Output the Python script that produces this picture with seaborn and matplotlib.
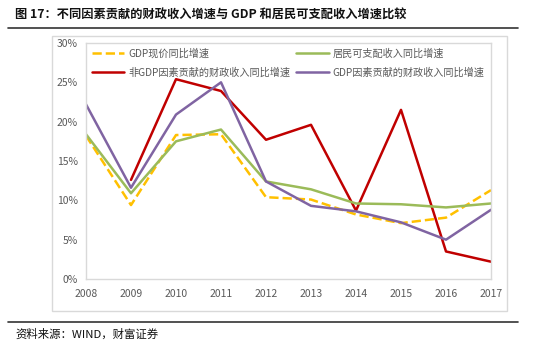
import pandas as pd
import numpy as np
import matplotlib
matplotlib.use('Agg')
import matplotlib.pyplot as plt
import seaborn as sns
from matplotlib.patches import Rectangle
from matplotlib.lines import Line2D
from matplotlib.ticker import FuncFormatter

sns.set_style('white')
plt.rcParams['font.family'] = ['Noto Sans CJK SC', 'DejaVu Sans']

years = [2008, 2009, 2010, 2011, 2012, 2013, 2014, 2015, 2016, 2017]
gdp_nominal = [18.2, 9.4, 18.3, 18.4, 10.4, 10.1, 8.2, 7.1, 7.8, 11.3]
income = [18.4, 10.9, 17.5, 19.0, 12.4, 11.4, 9.6, 9.5, 9.1, 9.6]
non_gdp_fiscal = [np.nan, 12.6, 25.4, 23.9, 17.7, 19.6, 8.7, 21.5, 3.5, 2.2]
gdp_fiscal = [22.2, 11.6, 20.9, 25.0, 12.4, 9.3, 8.6, 7.2, 5.0, 8.8]

names = ['GDP现价同比增速', '非GDP因素贡献的财政收入同比增速',
         '居民可支配收入同比增速', 'GDP因素贡献的财政收入同比增速']
series = [gdp_nominal, non_gdp_fiscal, income, gdp_fiscal]
colors = ['#FFC000', '#C00000', '#9BBB59', '#8064A2']
styles = ['--', '-', '-', '-']

fig = plt.figure(figsize=(5.5, 3.54), dpi=100)

# title and rules
fig.text(15 / 550, 1 - 15 / 354, '图 17：不同因素贡献的财政收入增速与 GDP 和居民可支配收入增速比较',
         fontsize=8.8, fontweight='bold', va='center', ha='left', color='#111111')
fig.add_artist(Line2D([8 / 550, 518 / 550], [1 - 28 / 354] * 2, color='#333333', lw=1.2))
fig.add_artist(Line2D([8 / 550, 518 / 550], [1 - 322 / 354] * 2, color='#333333', lw=1.2))
fig.text(15 / 550, 1 - 334 / 354, '资料来源：WIND，财富证券', fontsize=8.2, style='italic',
         va='center', ha='left', color='#111111')

# chart box
fig.add_artist(Rectangle((52 / 550, 1 - 311 / 354), 455 / 550, 275 / 354,
                         transform=fig.transFigure, fill=False, ec='#D9D9D9', lw=1))

ax = fig.add_axes([86 / 550, 1 - 279 / 354, 405 / 550, 236 / 354])
for name, vals, c, ls in zip(names, series, colors, styles):
    sns.lineplot(x=years, y=np.array(vals) / 100, color=c, linestyle=ls, lw=1.8,
                 label=name, ax=ax)

ax.set_xlim(2008, 2017)
ax.set_ylim(0, 0.30)
ax.set_xticks(years)
ax.set_yticks([0, 0.05, 0.10, 0.15, 0.20, 0.25, 0.30])
ax.yaxis.set_major_formatter(FuncFormatter(lambda v, p: f'{v * 100:.0f}%'))
ax.tick_params(axis='both', labelsize=7.5, labelcolor='#595959', colors='#D9D9D9')
ax.tick_params(axis='x', length=4, width=1, direction='out', pad=3)
ax.tick_params(axis='y', length=0, pad=6)
for lbl in ax.get_xticklabels() + ax.get_yticklabels():
    lbl.set_color('#595959')
for s in ax.spines.values():
    s.set_color('#D9D9D9')
    s.set_linewidth(1)
ax.set_xlabel('')
ax.set_ylabel('')

ax.legend(ncol=2, loc='upper left', bbox_to_anchor=(0.0, 1.0), frameon=False,
          fontsize=7.3, handlelength=3.2, columnspacing=0.6, handletextpad=0.4,
          labelspacing=0.8, labelcolor='#595959', borderaxespad=0.15)

fig.savefig('out.png', dpi=100)
